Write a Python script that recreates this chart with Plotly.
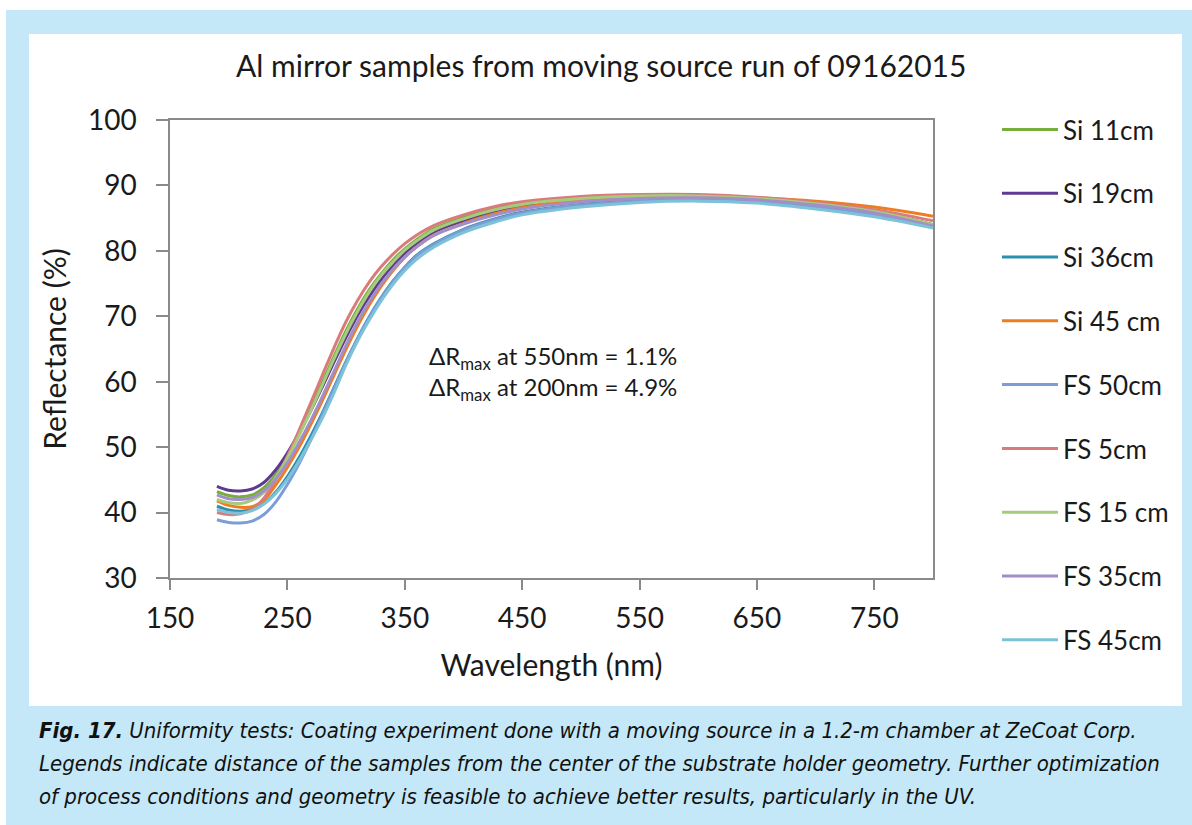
import plotly.graph_objects as go

wavelength = [190, 200, 210, 220, 230, 240, 250, 260, 270, 280, 290, 300, 310, 320, 330,
              340, 350, 360, 375, 400, 425, 450, 500, 550, 600, 650, 700, 750, 800]

si_11 = [43.2, 42.6, 42.4, 42.7, 43.8, 45.8, 48.7, 52.2, 56.0, 60.0, 64.0, 67.8, 71.2, 74.1, 76.5,
         78.6, 80.3, 81.7, 83.4, 85.1, 86.4, 87.2, 88.1, 88.4, 88.4, 88.0, 87.2, 86.0, 84.0]
si_19 = [44.0, 43.4, 43.3, 43.6, 44.6, 46.5, 49.1, 52.2, 55.6, 59.3, 63.1, 66.8, 70.2, 73.1, 75.6,
         77.8, 79.6, 81.1, 82.9, 84.6, 85.9, 86.8, 87.8, 88.2, 88.2, 87.9, 87.1, 85.9, 84.0]
si_36 = [41.0, 40.4, 40.2, 40.5, 41.4, 43.1, 45.5, 48.4, 51.7, 55.3, 59.2, 63.1, 66.7, 70.0, 72.9,
         75.4, 77.5, 79.3, 81.1, 83.3, 84.8, 85.9, 87.1, 87.6, 87.8, 87.5, 86.7, 85.5, 83.8]
si_45 = [41.8, 41.1, 40.8, 40.9, 41.9, 44.2, 46.9, 50.0, 53.5, 57.2, 61.1, 65.0, 68.6, 71.8, 74.6,
         77.0, 79.0, 80.6, 82.4, 84.2, 85.6, 86.6, 87.7, 88.2, 88.3, 88.1, 87.6, 86.7, 85.3]
fs_50 = [38.9, 38.5, 38.4, 38.7, 39.7, 41.6, 44.3, 47.5, 51.1, 55.0, 59.0, 63.0, 66.6, 69.9, 72.8,
         75.3, 77.4, 79.2, 81.0, 83.2, 84.7, 85.8, 87.0, 87.6, 87.8, 87.5, 86.7, 85.5, 83.7]
fs_5 = [40.0, 39.7, 39.8, 40.5, 42.2, 45.0, 48.6, 52.6, 56.8, 61.1, 65.3, 69.2, 72.5, 75.3, 77.6,
        79.5, 81.1, 82.4, 83.9, 85.5, 86.7, 87.5, 88.3, 88.6, 88.6, 88.2, 87.4, 86.3, 84.6]
fs_15 = [42.0, 41.5, 41.4, 41.9, 43.1, 45.3, 48.3, 51.8, 55.6, 59.6, 63.6, 67.4, 70.8, 73.8, 76.3,
         78.3, 80.1, 81.5, 83.2, 84.9, 86.2, 87.1, 88.0, 88.4, 88.4, 88.0, 87.2, 86.0, 84.0]
fs_35 = [42.7, 42.1, 42.0, 42.3, 43.3, 45.1, 47.6, 50.7, 54.1, 57.8, 61.7, 65.6, 69.2, 72.3, 75.0,
         77.2, 79.1, 80.6, 82.4, 84.1, 85.4, 86.4, 87.5, 88.0, 88.1, 87.8, 87.0, 85.8, 83.8]
fs_45 = [40.5, 40.0, 39.9, 40.3, 41.3, 42.9, 45.1, 47.9, 51.1, 54.5, 58.4, 62.6, 66.3, 69.5, 72.4,
         74.9, 77.0, 78.7, 80.6, 82.8, 84.3, 85.5, 86.7, 87.4, 87.6, 87.3, 86.4, 85.2, 83.5]

series_names = ["Si 11cm", "Si 19cm", "Si 36cm", "Si 45 cm", "FS 50cm",
                "FS 5cm", "FS 15 cm", "FS 35cm", "FS 45cm"]
series_values = [si_11, si_19, si_36, si_45, fs_50, fs_5, fs_15, fs_35, fs_45]
series_colors = ["#77AD3A", "#5E3A93", "#2E8EAE", "#EE7D22", "#7B9ED6",
                 "#DA7B7B", "#A6CB7C", "#A28FC7", "#7CC3DA"]

x_ticks = [150, 250, 350, 450, 550, 650, 750]
y_ticks = [30, 40, 50, 60, 70, 80, 90, 100]

title_text = "Al mirror samples from moving source run of 09162015"
x_title = "Wavelength (nm)"
y_title = "Reflectance (%)"
note_text = "ΔR<sub>max</sub> at 550nm = 1.1%<br>ΔR<sub>max</sub> at 200nm = 4.9%"
caption_lines = [
    "<b>Fig. 17.</b> Uniformity tests: Coating experiment done with a moving source in a 1.2-m chamber at ZeCoat Corp.",
    "Legends indicate distance of the samples from the center of the substrate holder geometry. Further optimization",
    "of process conditions and geometry is feasible to achieve better results, particularly in the UV.",
]

FONT = "Lato"
CAPTION_FONT = "DejaVu Sans Condensed"
AXIS_COLOR = "#8A8A8A"
BG_BLUE = "#C5E8F8"
TEXT = "#1a1a1a"

W, H = 1192, 825
L, R, T, B = 170, 933, 120, 578
pw, ph = R - L, B - T


def px(xp):
    return (xp - L) / pw


def py(yp):
    return (B - yp) / ph


fig = go.Figure()
for name, vals, col in zip(series_names, series_values, series_colors):
    fig.add_trace(go.Scatter(
        x=wavelength, y=vals, name=name, mode="lines",
        line=dict(color=col, width=3, shape="spline", smoothing=1.0),
        legendgroup=name,
    ))

fig.update_layout(
    width=W, height=H,
    margin=dict(l=L, r=W - R, t=T, b=H - B),
    paper_bgcolor=BG_BLUE,
    plot_bgcolor="white",
    font=dict(family=FONT, color=TEXT),
    showlegend=True,
    legend=dict(
        x=px(997), y=py(106), xanchor="left", yanchor="top",
        font=dict(size=26, family=FONT, color=TEXT),
        tracegroupgap=27, itemwidth=56, maxheight=760,
        bgcolor="rgba(0,0,0,0)",
    ),
    xaxis=dict(
        range=[150, 800], tickvals=x_ticks, ticks="outside", ticklen=10,
        tickcolor=AXIS_COLOR, tickwidth=1.5,
        showline=True, linecolor=AXIS_COLOR, linewidth=1.5, mirror=True,
        showgrid=False, zeroline=False,
        tickfont=dict(size=28, family=FONT, color=TEXT),
        ticklabelstandoff=5,
        title=dict(text=x_title, font=dict(size=30, family=FONT, color=TEXT), standoff=22),
    ),
    yaxis=dict(
        range=[30, 100], tickvals=y_ticks, ticks="outside", ticklen=12,
        tickcolor=AXIS_COLOR, tickwidth=1.5,
        showline=True, linecolor=AXIS_COLOR, linewidth=1.5, mirror=True,
        showgrid=False, zeroline=False,
        tickfont=dict(size=28, family=FONT, color=TEXT),
        ticklabelstandoff=14,
        title=dict(text=y_title, font=dict(size=30, family=FONT, color=TEXT), standoff=12),
    ),
    shapes=[
        dict(type="rect", xref="paper", yref="paper", layer="below",
             x0=px(0), x1=px(W), y0=py(10), y1=py(0), fillcolor="white", line=dict(width=0)),
        dict(type="rect", xref="paper", yref="paper", layer="below",
             x0=px(0), x1=px(6), y0=py(H), y1=py(0), fillcolor="white", line=dict(width=0)),
        dict(type="rect", xref="paper", yref="paper", layer="below",
             x0=px(29), x1=px(1182), y0=py(706), y1=py(34), fillcolor="white", line=dict(width=0)),
    ],
    annotations=[
        dict(text=title_text, xref="paper", yref="paper", x=px(601), y=py(65),
             xanchor="center", yanchor="middle", showarrow=False,
             font=dict(size=30, family=FONT, color=TEXT)),
        dict(text=note_text, xref="x", yref="y", x=150 + (427 - L) / (pw / 650),
             y=100 - (373 - T) / (ph / 70), xanchor="left", yanchor="middle",
             align="left", showarrow=False,
             font=dict(size=24, family=FONT, color=TEXT)),
    ] + [
        dict(text="<i>" + line + "</i>", xref="paper", yref="paper", x=px(37), y=py(yc),
             xanchor="left", yanchor="middle", align="left", showarrow=False,
             font=dict(size=22, family=CAPTION_FONT, color="#111111"))
        for line, yc in zip(caption_lines, [730, 763, 796])
    ],
)

fig.write_html("out.html", config={"displayModeBar": False},
               post_script="document.body.style.margin='0px';document.body.style.padding='0px';")
